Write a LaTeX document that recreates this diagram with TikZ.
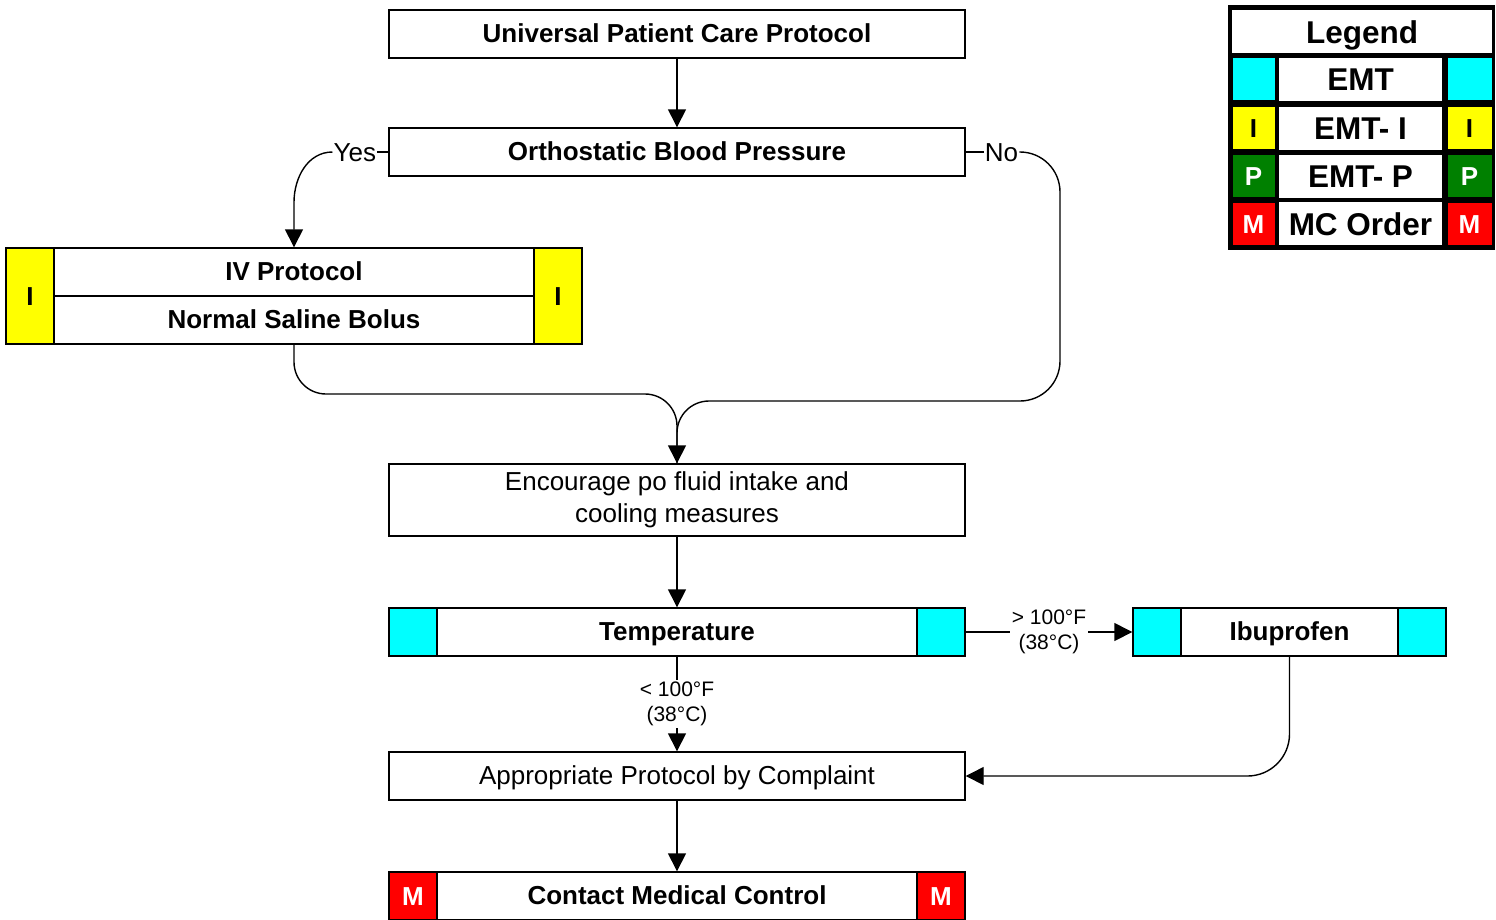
\documentclass[tikz,border=0pt]{standalone}
\usepackage{fontspec}
\setmainfont{Liberation Sans}
\usetikzlibrary{arrows.meta}
\definecolor{emtc}{HTML}{00FFFF}
\definecolor{emti}{HTML}{FFFF00}
\definecolor{emtp}{HTML}{008000}
\definecolor{mcred}{HTML}{FF0000}
\begin{document}
\begin{tikzpicture}[x=1pt,y=-1pt,
  box/.style={draw, line width=1.4pt, fill=white, minimum width=576pt, minimum height=48pt, inner sep=0pt,
     font=\bfseries\fontsize{26}{30}\selectfont, text height=19pt, text depth=3pt},
  plainbox/.style={draw, line width=1.4pt, fill=white, minimum width=576pt, minimum height=48pt, inner sep=0pt,
     font=\fontsize{26}{30}\selectfont, text height=19pt, text depth=3pt},
  twobox/.style={draw, line width=1.4pt, fill=white, minimum width=576pt, minimum height=72pt, inner sep=0pt,
     font=\fontsize{26}{32}\selectfont, align=center},
  sq/.style={draw, line width=1.4pt, minimum width=48pt, minimum height=48pt, inner sep=0pt,
     font=\bfseries\fontsize{26}{30}\selectfont, text height=19pt, text depth=0pt},
  arr/.style={line width=1.4pt, -{Triangle[width=18pt,length=18pt]}},
  conn/.style={line width=1.4pt},
  lab/.style={font=\fontsize{26}{30}\selectfont, inner sep=1pt, text height=19pt, text depth=1pt},
  small/.style={font=\fontsize{21}{25}\selectfont, fill=white, align=center, inner sep=2pt},
  legcell/.style={fill=white, minimum height=43pt, inner sep=0pt,
     font=\bfseries\fontsize{31.5}{36}\selectfont, text height=23pt, text depth=0pt},
]
\useasboundingbox (0,0) rectangle (1496,919);

% main boxes
\node[box] (upc) at (677,34) {Universal Patient Care Protocol};
\node[box] (obp) at (677,152) {Orthostatic Blood Pressure};

\node[box] (ivt) at (294,272) {IV Protocol};
\node[box] (ivb) at (294,320) {Normal Saline Bolus};
\node[sq, fill=emti, minimum height=96pt, anchor=north west] (ivL) at (ivt.north west) {I};
\node[sq, fill=emti, minimum height=96pt, anchor=north east] (ivR) at (ivt.north east) {I};

\node[twobox] (enc) at (677,500) {Encourage po fluid intake and\\cooling measures};

\node[box] (temp) at (677,632) {Temperature};
\node[sq, fill=emtc, anchor=west] (tempL) at (temp.west) {};
\node[sq, fill=emtc, anchor=east] (tempR) at (temp.east) {};

\node[box, minimum width=313pt] (ibu) at (1289.5,632) {Ibuprofen};
\node[sq, fill=emtc, anchor=west] (ibuL) at (ibu.west) {};
\node[sq, fill=emtc, anchor=east] (ibuR) at (ibu.east) {};

\node[plainbox] (apc) at (677,776) {Appropriate Protocol by Complaint};

\node[box] (cmc) at (677,896) {Contact Medical Control};
\node[sq, fill=mcred, text=white, anchor=west] (cmcL) at (cmc.west) {M};
\node[sq, fill=mcred, text=white, anchor=east] (cmcR) at (cmc.east) {M};

% connectors
\draw[arr] (upc) -- (obp);

\node[lab, anchor=east] (yes) at ([xshift=-11pt]obp.west) {Yes};
\draw[conn] (obp.west) -- (yes.east);
\draw[arr] (yes.west) to[out=180,in=90] ([yshift=45pt]ivt.north) -- (ivt.north);

\node[lab, anchor=west] (no) at ([xshift=18pt]obp.east) {No};
\draw[conn] (obp.east) -- (no.west);
\coordinate (nturn) at (1060,401);
\coordinate (lturn) at (0,394);
\draw[arr] (no.east) [rounded corners=40pt] -| (nturn) [rounded corners=32pt] -- (enc.north |- nturn) -- (enc.north);
\draw[conn, rounded corners=32pt] (ivb.south) |- (enc.north |- lturn) -- (enc.north);

\draw[arr] (enc) -- (temp);
\draw[arr] (temp.east) -- node[small] {> 100°F\\(38°C)} (ibu.west);
\draw[arr] (temp) -- node[small] {< 100°F\\(38°C)} (apc);
\draw[arr, rounded corners=42pt] (ibu.south) |- (apc.east);
\draw[arr] (apc) -- (cmc);

% legend
\node[fill=black, minimum width=267pt, minimum height=245pt, inner sep=0pt, anchor=north west] (legbg) at (1228,5) {};
\node[legcell, minimum width=260pt] (legt) at (1362,31.5) {Legend};
\foreach \y/\c/\t/\l/\tc [count=\i] in {79/emtc/EMT//black, 128/emti/EMT- I/I/black, 176/emtp/EMT- P/P/white, 223.5/mcred/MC Order/M/white}{
  \node[legcell, fill=\c, text=\tc, minimum width=43pt, draw=black, line width=0.6pt, font=\bfseries\fontsize{26}{30}\selectfont, text height=19pt] (legL\i) at (1253.5,\y) {\l};
  \node[legcell, minimum width=163pt] (legM\i) at (1360.5,\y) {\t};
  \node[legcell, fill=\c, text=\tc, minimum width=45pt, draw=black, line width=0.6pt, font=\bfseries\fontsize{26}{30}\selectfont, text height=19pt] (legR\i) at (1469.5,\y) {\l};
}
\end{tikzpicture}
\end{document}
